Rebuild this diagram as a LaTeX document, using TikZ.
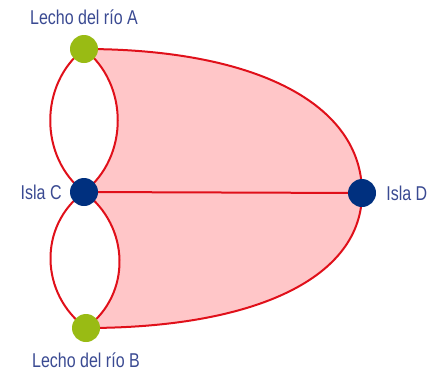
\documentclass[tikz,border=0pt]{standalone}
\usepackage{fontspec}
\setmainfont{Liberation Sans}[FakeStretch=0.8]
\usetikzlibrary{positioning,backgrounds}
\definecolor{rojo}{HTML}{E0101A}
\definecolor{rosa}{HTML}{FFC6C8}
\definecolor{verde}{HTML}{99BB14}
\definecolor{marino}{HTML}{00307F}
\definecolor{texto}{HTML}{3A4A92}
\tikzset{
  lecho/.style={circle, fill=verde, minimum size=28pt, inner sep=0pt},
  isla/.style={circle, fill=marino, minimum size=28pt, inner sep=0pt},
  rotulo/.style={text=texto, font=\fontsize{20}{22}\selectfont, inner sep=0pt},
  puente/.style={draw=rojo, line width=2pt}
}
\begin{document}
\begin{tikzpicture}[x=1pt, y=-1pt]
   \useasboundingbox (0,0) rectangle (428,381);
   \node [lecho] (A) at (84,49) {};
   \node [isla] (C) at (84,192) {};
   \node [lecho] (B) at (86,328) {};
   \node [isla] (D) at (362,193) {};

   \node [rotulo, above=10pt of A] {Lecho del río A};
   \node [rotulo, below=10pt of B] {Lecho del río B};
   \node [rotulo, left=8pt of C] {Isla C};
   \node [rotulo, right=10pt of D] {Isla D};

   \begin{scope}[on background layer]
   % zona rosa
   \fill[rosa] (A.center) .. controls +(45,35) and +(45,-35) .. (C.center)
               .. controls +(46,34) and +(46,-34) .. (B.center)
               .. controls +(171,0) and +(0,84) .. (D.center)
               .. controls +(0,-89) and +(172,0) .. (A.center);
   \draw[puente] (A.center) .. controls +(-45,35) and +(-45,-35) .. (C.center)
                 (A.center) .. controls +(45,35) and +(45,-35) .. (C.center)
                 (C.center) .. controls +(-46,34) and +(-46,-34) .. (B.center)
                 (C.center) .. controls +(46,34) and +(46,-34) .. (B.center)
                 (A.center) .. controls +(172,0) and +(0,-89) .. (D.center)
                 (B.center) .. controls +(171,0) and +(0,84) .. (D.center)
                 (C) -- (D);
   \end{scope}
\end{tikzpicture}
\end{document}
